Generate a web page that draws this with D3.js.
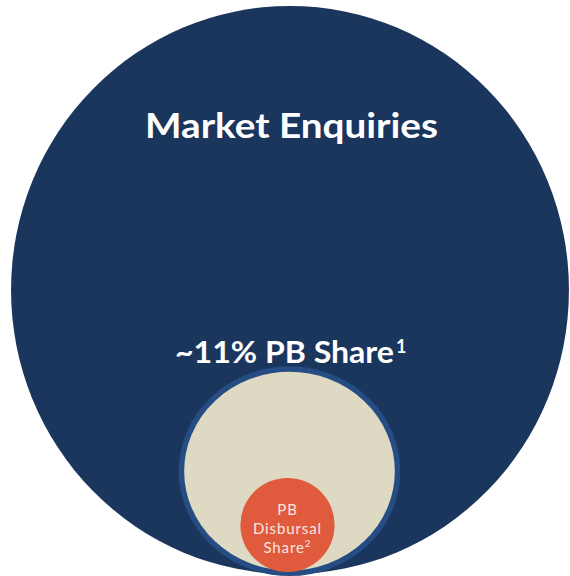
<!DOCTYPE html>
<html>
<head>
<meta charset="utf-8">
<script src="https://cdn.jsdelivr.net/npm/d3@7"></script>
<style>
  body { margin: 0; background: #ffffff; }
  svg { display: block; }
</style>
</head>
<body>
<div id="container"></div>
<script>
/* DATA */
const labels = ["Market Enquiries", "~11% PB Share", "PB Disbursal Share"];
const notes = ["", "1", "2"];
const sizes = [100, 15.5, 2.8]; // relative areas

/* CONSTANTS */
const width = 570,
  height = 576;
const colors = ["#1a365d", "#ddd9c3", "#e05a3d"];

const rScale = d3.scaleSqrt()
  .domain([0, d3.max(sizes)])
  .range([0, 281.5]);

const svg = d3.select("#container")
  .append("svg")
  .attr("width", width)
  .attr("height", height);

// BIG CIRCLE
const rBig = rScale(sizes[0]);
svg.append("ellipse")
  .attr("cx", 290)
  .attr("cy", 290)
  .attr("rx", rBig * 0.991)
  .attr("ry", rBig * 1.009)
  .attr("fill", colors[0]);

// MIDDLE CIRCLE (with ring)
const rMid = rScale(sizes[1]);
const ryMid = rMid * 0.946;
svg.append("ellipse")
  .attr("cx", 289.5)
  .attr("cy", height - ryMid)
  .attr("rx", rMid - 2.75)
  .attr("ry", ryMid - 2.75)
  .attr("fill", colors[1])
  .attr("stroke", "#264c84")
  .attr("stroke-width", 5.5);

// SMALL CIRCLE
const rSmall = rScale(sizes[2]);
svg.append("circle")
  .attr("cx", 287.5)
  .attr("cy", 525)
  .attr("r", rSmall)
  .attr("fill", colors[2]);

// TEXT
const font = "'Lato', 'DejaVu Sans', sans-serif";

svg.append("text")
  .attr("x", 291.5)
  .attr("y", 138)
  .attr("text-anchor", "middle")
  .attr("font-family", font)
  .attr("font-weight", 700)
  .attr("font-size", 35)
  .attr("fill", "#ffffff")
  .attr("textLength", 293)
  .attr("lengthAdjust", "spacingAndGlyphs")
  .text(labels[0]);

// "~11% PB Share" left-anchored so the superscript can follow
svg.append("text")
  .attr("x", 175)
  .attr("y", 363)
  .attr("font-family", font)
  .attr("font-weight", 700)
  .attr("font-size", 30)
  .attr("fill", "#ffffff")
  .attr("textLength", 219)
  .attr("lengthAdjust", "spacingAndGlyphs")
  .text(labels[1]);
svg.append("text")
  .attr("x", 396)
  .attr("y", 353)
  .attr("font-family", font)
  .attr("font-weight", 700)
  .attr("font-size", 18)
  .attr("fill", "#ffffff")
  .text(notes[1]);

const words = ["PB", "Disbursal", "Share"];
const t3 = svg.append("text")
  .attr("text-anchor", "middle")
  .attr("font-family", font)
  .attr("font-size", 15)
  .attr("letter-spacing", 0.9)
  .attr("fill", "#f7e6e0");
words.forEach((w, i) => {
  t3.append("tspan")
    .attr("x", 287.5)
    .attr("y", 515 + i * 19)
    .text(w);
  if (i === words.length - 1) {
    t3.append("tspan")
      .attr("font-size", 10)
      .attr("dy", -6)
      .text(notes[2]);
  }
});
</script>
</body>
</html>
